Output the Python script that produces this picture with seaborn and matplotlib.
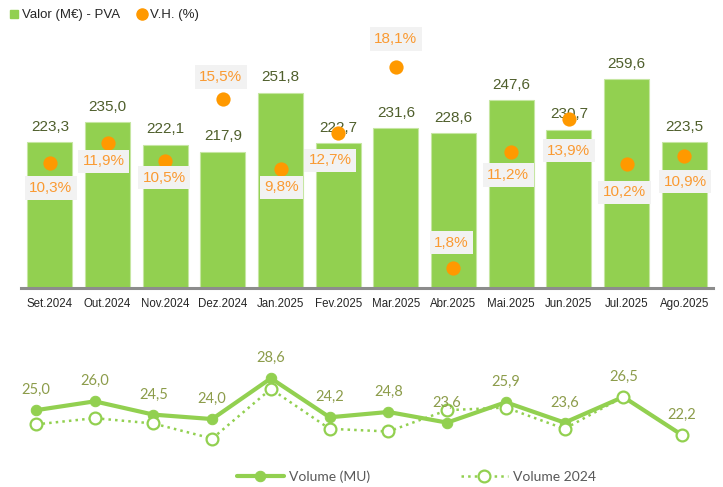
import numpy as np
import pandas as pd
import matplotlib
matplotlib.use("Agg")
import matplotlib.pyplot as plt
from matplotlib.lines import Line2D
import seaborn as sns

# ---- data ----
months = ["Set.2024", "Out.2024", "Nov.2024", "Dez.2024", "Jan.2025", "Fev.2025",
          "Mar.2025", "Abr.2025", "Mai.2025", "Jun.2025", "Jul.2025", "Ago.2025"]
valor = [223.3, 235.0, 222.1, 217.9, 251.8, 222.7, 231.6, 228.6, 247.6, 230.7, 259.6, 223.5]
vh = [10.3, 11.9, 10.5, 15.5, 9.8, 12.7, 18.1, 1.8, 11.2, 13.9, 10.2, 10.9]
volume = [25.0, 26.0, 24.5, 24.0, 28.6, 24.2, 24.8, 23.6, 25.9, 23.6, 26.5, 22.2]
volume_2024 = [23.4, 24.1, 23.5, 21.8, 27.4, 22.9, 22.6, 25.0, 25.3, 22.9, 26.5, 22.2]

# label offsets in pixels (style only)
vh_dy = [-25, -18, -17, 22, -18, -27, 28, 25, -23, -32, -28, -26]
vh_dx = [1, -4, -1, -2, 1, -8, 0, -2, -3, 0, -2, 1]

GREEN = "#92d050"
ORANGE = "#ff9900"
PCT_TXT = "#fa9a32"
DARK_OLIVE = "#4f5f2c"
OLIVE = "#8c9c4a"
SANS = ["Liberation Sans", "DejaVu Sans"]
LATO = ["Lato", "DejaVu Sans"]

sns.set_style("white")
plt.rcParams["font.family"] = SANS

W, H = 723, 487
fig = plt.figure(figsize=(W / 100, H / 100), dpi=100)


def rect(l, t, r, b):
    return [l / W, 1 - b / H, (r - l) / W, (b - t) / H]


# ---- top bar chart ----
ax1 = fig.add_axes(rect(21, 30, 713, 288))
df = pd.DataFrame({"month": months, "valor": valor, "vh": vh,
                   "pos": np.arange(len(months))})
sns.barplot(data=df, x="month", y="valor", color=GREEN, saturation=1,
            width=0.78, edgecolor="#c6e6a2", linewidth=0.8, ax=ax1)
ax1.set_xlim(-0.5, 11.5)
ax1.set_ylim(139.4, 288.1)
ax1.set_xlabel("")
ax1.set_ylabel("")
ax1.set_yticks([])
for s in ["top", "left", "right"]:
    ax1.spines[s].set_visible(False)
ax1.spines["bottom"].set_color("#8c8c8c")
ax1.spines["bottom"].set_linewidth(2.2)
ax1.tick_params(axis="x", length=0, pad=7.5, labelsize=8.3, labelcolor="#262626")
for lab in ax1.get_xticklabels():
    lab.set_family(SANS)
for i, v in enumerate(valor):
    ax1.annotate(f"{v:.1f}".replace(".", ","), (i, v), xytext=(0, 15.5),
                 textcoords="offset pixels", ha="center", va="center",
                 fontsize=11, color=DARK_OLIVE, family=SANS)

ax2 = ax1.twinx()
sns.scatterplot(data=df, x="pos", y="vh", color=ORANGE, s=105, linewidth=0,
                ax=ax2, legend=False, zorder=3)
ax2.set_ylim(0.15, 21.1)
ax2.set_xlim(-0.5, 11.5)
ax2.set_yticks([])
ax2.set_ylabel("")
ax2.set_xlabel("")
for s in ["top", "left", "right", "bottom"]:
    ax2.spines[s].set_visible(False)
for i, v in enumerate(vh):
    ax2.annotate(f"{v:.1f}%".replace(".", ","), (i, v),
                 xytext=(vh_dx[i], vh_dy[i]), textcoords="offset pixels",
                 ha="center", va="center", fontsize=11, color=PCT_TXT, zorder=4,
                 family=SANS,
                 bbox=dict(boxstyle="square,pad=0.3", fc="#f2f2f2", ec="none"))

fig.legend(handles=[Line2D([], [], marker="s", ls="none", color=GREEN, markersize=6),
                    Line2D([], [], marker="o", ls="none", color=ORANGE, markersize=8)],
           labels=["Valor (M€) - PVA", "V.H. (%)"], loc="upper left",
           bbox_to_anchor=(0.0, 1.0), ncol=2, frameon=False,
           prop={"family": SANS, "size": 9.5},
           handlelength=0.7, handletextpad=0.25, columnspacing=1.3,
           borderaxespad=0.3, labelcolor="#262626")

# ---- bottom line chart ----
ax3 = fig.add_axes(rect(6.6, 340, 711.4, 450))
x = np.arange(len(months))
sns.lineplot(x=x, y=volume, ax=ax3, color=GREEN, linewidth=3.0, marker="o",
             markersize=7.5, markeredgecolor=GREEN, markerfacecolor=GREEN,
             zorder=2, clip_on=False)
sns.lineplot(x=x, y=volume_2024, ax=ax3, color=GREEN, linewidth=1.8,
             linestyle=":", marker="o", markersize=8.5, markerfacecolor="white",
             markeredgecolor=GREEN, markeredgewidth=1.6, zorder=3, clip_on=False)
ax3.set_xlim(-0.5, 11.5)
ax3.set_ylim(20.51, 32.92)
ax3.axis("off")
for i, v in enumerate(volume):
    ax3.annotate(f"{v:.1f}".replace(".", ","), (i, v), xytext=(0, 20),
                 textcoords="offset pixels", ha="center", va="center",
                 fontsize=10.5, color=OLIVE, family=LATO)

lines = ax3.get_lines()
fig.legend(handles=[lines[0], lines[1]], labels=["Volume (MU)", "Volume 2024"],
           loc="center", bbox_to_anchor=(416.5 / W, 10 / H), ncol=2, frameon=False,
           prop={"family": LATO, "size": 10},
           labelcolor="#595959", handlelength=3.4, handletextpad=0.4,
           columnspacing=6.5)

fig.savefig("out.png", dpi=100)
